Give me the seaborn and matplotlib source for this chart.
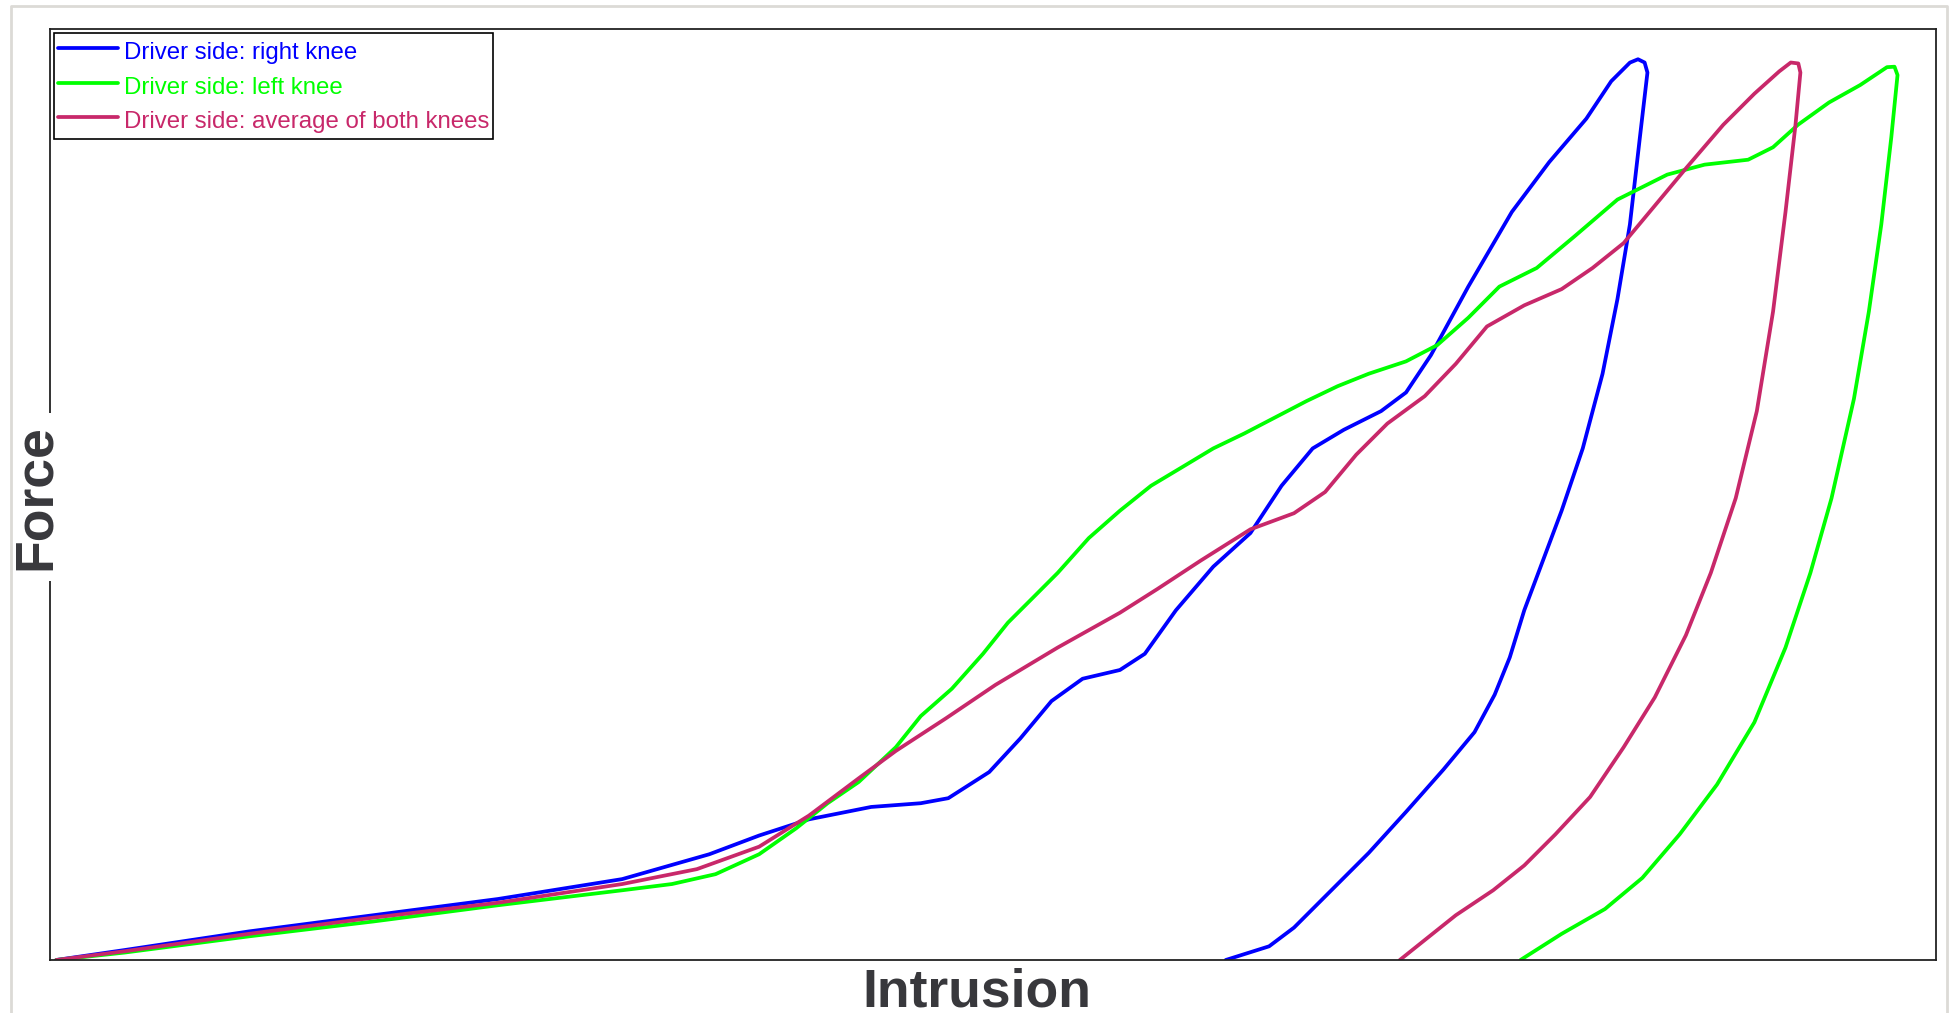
import matplotlib.pyplot as plt
from matplotlib.lines import Line2D
import pandas as pd
import seaborn as sns

# force vs intrusion, both in relative units (0-100)
right_x = [0.33, 3.96, 10.55, 17.15, 23.75, 30.34, 34.96, 37.60, 40.24, 43.54, 46.17, 47.63,
           49.80, 51.45, 53.10, 54.75, 56.73, 58.05, 59.70, 61.68, 63.65, 65.30, 66.95, 68.60,
           70.58, 71.90, 73.22, 75.20, 77.51, 79.49, 81.46, 82.78, 83.77, 84.20, 84.55, 84.70,
           84.30, 83.77, 83.11, 82.32, 81.27, 80.15, 79.16, 78.17, 77.40, 76.60, 75.53,
           73.88, 71.90, 69.92, 67.94, 65.96, 64.64, 62.34]
right_y = [0.00, 1.07, 3.07, 4.81, 6.55, 8.69, 11.36, 13.37, 15.11, 16.44, 16.84, 17.38,
           20.19, 23.80, 27.81, 30.21, 31.15, 32.89, 37.57, 42.25, 45.86, 50.94, 54.95, 56.95,
           58.96, 60.96, 64.97, 72.33, 80.35, 85.70, 90.37, 94.39, 96.39, 96.75, 96.40, 95.32,
           88.37, 79.01, 70.99, 62.97, 54.95, 48.26, 42.91, 37.57, 32.50, 28.50, 24.47,
           20.45, 15.91, 11.50, 7.49, 3.48, 1.47, 0.00]

left_x = [0.33, 3.96, 10.55, 17.15, 23.75, 30.34, 32.98, 35.29, 37.60, 39.58, 41.23, 42.88,
          44.85, 46.17, 47.82, 49.47, 50.79, 52.11, 53.43, 55.08, 56.73, 58.38, 60.03, 61.68,
          63.32, 64.97, 66.62, 68.27, 69.92, 71.90, 73.55, 75.20, 76.85, 78.83, 80.80, 83.11,
          85.75, 87.73, 90.04, 91.36, 92.68, 94.33, 95.98, 97.40, 97.80, 97.96,
          97.63, 97.10, 96.44, 95.65, 94.46, 93.34, 92.02, 90.37, 88.39, 86.41, 84.43,
          82.45, 80.15, 77.97]
left_y = [0.00, 0.80, 2.54, 4.14, 5.88, 7.49, 8.16, 9.22, 11.36, 14.17, 16.84, 19.12,
          22.86, 26.20, 29.14, 32.89, 36.23, 38.90, 41.58, 45.32, 48.26, 50.94, 52.94, 54.95,
          56.55, 58.29, 60.03, 61.63, 62.97, 64.30, 66.04, 68.98, 72.33, 74.33, 77.67, 81.68,
          84.36, 85.43, 85.96, 87.30, 89.71, 92.11, 93.98, 95.90, 95.95, 95.05,
          88.37, 79.01, 69.65, 60.29, 49.60, 41.58, 33.56, 25.53, 18.85, 13.50, 8.82,
          5.48, 2.81, 0.00]

avg_x = [0.33, 3.96, 10.55, 17.15, 23.75, 30.34, 34.30, 37.60, 40.24, 42.88, 44.85, 47.49,
         50.13, 53.43, 56.73, 58.71, 61.02, 63.65, 65.96, 67.61, 69.26, 70.91, 72.89, 74.54,
         76.19, 78.17, 80.15, 81.79, 83.44, 85.09, 86.74, 88.72, 90.37, 91.69, 92.30, 92.70, 92.81,
         92.55, 92.02, 91.36, 90.50, 89.38, 88.06, 86.74, 85.09, 83.44, 81.66, 79.82,
         78.17, 76.52, 74.54, 72.89, 71.57]
avg_y = [0.00, 0.94, 2.81, 4.55, 6.15, 8.16, 9.76, 12.17, 15.51, 19.52, 22.46, 25.94,
         29.55, 33.56, 37.30, 39.84, 42.91, 46.26, 47.99, 50.27, 54.28, 57.62, 60.56, 64.04,
         68.05, 70.32, 72.06, 74.33, 77.01, 81.02, 85.03, 89.71, 93.05, 95.45, 96.40, 96.30, 95.32,
         89.71, 80.35, 69.65, 58.96, 49.60, 41.58, 34.89, 28.21, 22.86, 17.51, 13.50,
         10.16, 7.49, 4.81, 2.14, 0.00]

labels = ['Driver side: right knee', 'Driver side: left knee', 'Driver side: average of both knees']
colors = ['#0000ff', '#00ff00', '#c8286a']

sns.set_style('white')
plt.rcParams['font.family'] = ['Liberation Sans', 'DejaVu Sans']

fig = plt.figure(figsize=(19.5, 10.13), dpi=100)
ax = fig.add_axes([50 / 1950, 53 / 1013, 1886 / 1950, 931 / 1013])

series = [(right_x, right_y), (left_x, left_y), (avg_x, avg_y)]
for (xs, ys), lab, col in zip(series, labels, colors):
    df = pd.DataFrame({'Intrusion': xs, 'Force': ys})
    sns.lineplot(data=df, x='Intrusion', y='Force', sort=False, estimator=None,
                 color=col, linewidth=2.7, label=lab, ax=ax,
                 solid_joinstyle='round', solid_capstyle='round')

ax.set_xlim(0, 100)
ax.set_ylim(0, 100)
ax.set_xticks([])
ax.set_yticks([])
ax.set_xlabel(None)
ax.set_ylabel(None)
for sp in ax.spines.values():
    sp.set_color('#222222')
    sp.set_linewidth(1.3)

leg = ax.legend(loc='upper left', fontsize=17.3, frameon=True, fancybox=False,
                edgecolor='black', framealpha=1, borderaxespad=0.17, borderpad=0.15,
                handlelength=2.5, handleheight=1.5, handletextpad=0.25, labelspacing=0.22,
                labelcolor='linecolor')
leg.get_frame().set_linewidth(1.2)

# axis titles, Force has a white box that hides the spine behind it
fig.text(977 / 1950, 7 / 1013, 'Intrusion', ha='center', va='baseline',
         fontsize=38.5, fontweight='bold', color='#38383c')
fig.text(50 / 1950, 1 - 497 / 1013, 'Force', rotation=90, rotation_mode='anchor',
         ha='center', va='baseline', fontsize=38.5, fontweight='bold', color='#38383c',
         bbox=dict(boxstyle='square,pad=0.2', facecolor='white', edgecolor='none'))

# light outer frame of the screenshot
fig.add_artist(Line2D([11 / 1950, 11 / 1950, 1947 / 1950, 1947 / 1950],
                      [0, 1 - 6 / 1013, 1 - 6 / 1013, 0],
                      transform=fig.transFigure, color='#dcdad6', linewidth=2, zorder=10))

fig.savefig('out.png', dpi=100)
